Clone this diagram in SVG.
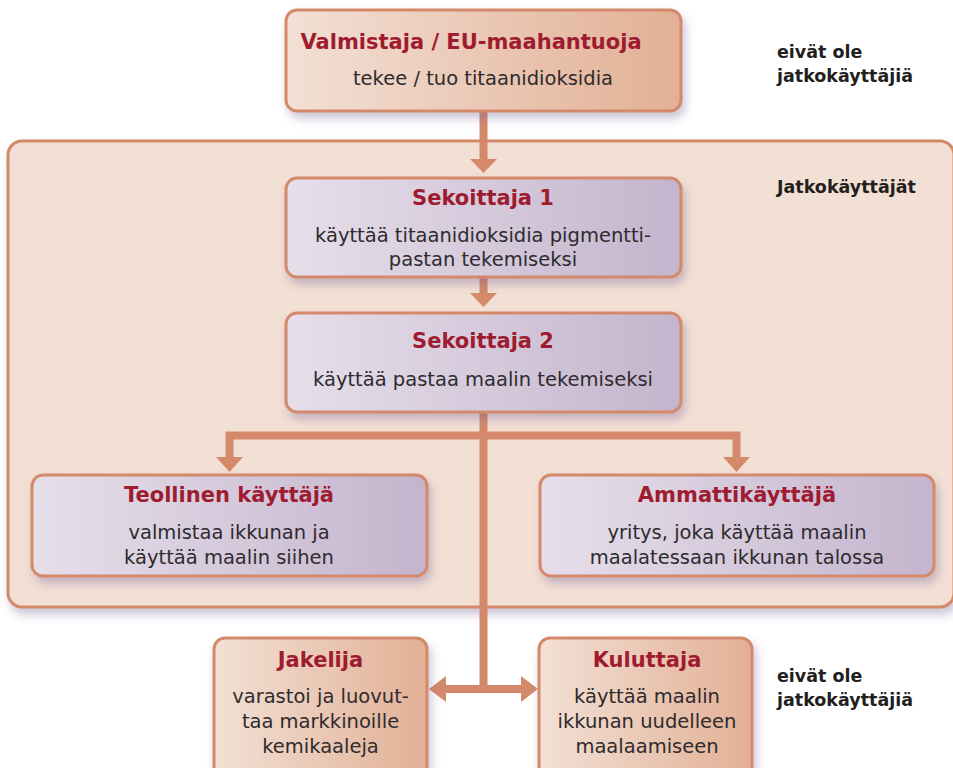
<svg xmlns="http://www.w3.org/2000/svg" width="953" height="768" viewBox="0 0 953 768">
<defs>
<linearGradient id="gOr" x1="0" y1="0" x2="1" y2="0"><stop offset="0" stop-color="#f3e0d5"/><stop offset="1" stop-color="#e2b095"/></linearGradient>
<linearGradient id="gLa" x1="0" y1="0" x2="1" y2="0"><stop offset="0" stop-color="#e6dfea"/><stop offset="1" stop-color="#c4b4cd"/></linearGradient>
<filter id="sh" x="-10%" y="-10%" width="125%" height="140%"><feDropShadow dx="3" dy="6" stdDeviation="5" flood-color="#6a5a90" flood-opacity="0.35"/></filter>
<style>
.box{stroke:#d4896a;stroke-width:3}
.or{fill:url(#gOr)}
.la{fill:url(#gLa)}
.t{font-family:"DejaVu Sans",sans-serif;font-weight:bold;font-size:21px;fill:#9e1b30;text-anchor:middle}
.b{font-family:"DejaVu Sans",sans-serif;font-size:19.5px;fill:#2e2b2e;text-anchor:middle}
.n{font-family:"DejaVu Sans",sans-serif;font-weight:bold;font-size:17.5px;fill:#231f20}
.ln{stroke:#d4896a;stroke-width:8;fill:none}
.hd{fill:#d4896a}
</style>
</defs>
<rect width="953" height="768" fill="#ffffff"/>
<g id="container">
<rect x="8" y="141" width="946" height="466" rx="14" fill="#f3e0d5" stroke="#d4896a" stroke-width="3" filter="url(#sh)"/>
</g>
<g id="connectors">
<line class="ln" x1="483.5" y1="112" x2="483.5" y2="160"/>
<polygon class="hd" points="470,159 497,159 483.5,173"/>
<line class="ln" x1="483.5" y1="278" x2="483.5" y2="294"/>
<polygon class="hd" points="470,293 497,293 483.5,307"/>
<line class="ln" x1="483.5" y1="413" x2="483.5" y2="693"/>
<polyline class="ln" points="229.5,458 229.5,435.5 736.5,435.5 736.5,458"/>
<polygon class="hd" points="216,457 243,457 229.5,472"/>
<polygon class="hd" points="723,457 750,457 736.5,472"/>
<line class="ln" x1="444" y1="689" x2="523" y2="689"/>
<polygon class="hd" points="429,689 446,676 446,702"/>
<polygon class="hd" points="538,689 521,676 521,702"/>
</g>
<g id="valmistaja">
<rect class="box or" x="286" y="10" width="395" height="101" rx="11" filter="url(#sh)"/>
<text class="t" x="471" y="49">Valmistaja / EU-maahantuoja</text>
<text class="b" x="483" y="85">tekee / tuo titaanidioksidia</text>
</g>
<g id="sekoittaja1">
<rect class="box la" x="286" y="178" width="395" height="99" rx="11" filter="url(#sh)"/>
<text class="t" x="483" y="205">Sekoittaja 1</text>
<text class="b" x="483" y="242">käyttää titaanidioksidia pigmentti-</text>
<text class="b" x="483" y="266">pastan tekemiseksi</text>
</g>
<g id="sekoittaja2">
<rect class="box la" x="286" y="313" width="395" height="99" rx="11" filter="url(#sh)"/>
<text class="t" x="483" y="348">Sekoittaja 2</text>
<text class="b" x="483" y="386">käyttää pastaa maalin tekemiseksi</text>
</g>
<g id="teollinen">
<rect class="box la" x="32" y="475" width="395" height="101" rx="11" filter="url(#sh)"/>
<text class="t" x="229" y="502">Teollinen käyttäjä</text>
<text class="b" x="229" y="539">valmistaa ikkunan ja</text>
<text class="b" x="229" y="564">käyttää maalin siihen</text>
</g>
<g id="ammatti">
<rect class="box la" x="540" y="475" width="394" height="101" rx="11" filter="url(#sh)"/>
<text class="t" x="737" y="502">Ammattikäyttäjä</text>
<text class="b" x="737" y="539">yritys, joka käyttää maalin</text>
<text class="b" x="737" y="564">maalatessaan ikkunan talossa</text>
</g>
<g id="jakelija">
<rect class="box or" x="214" y="638" width="213" height="140" rx="11" filter="url(#sh)"/>
<text class="t" x="320.5" y="667">Jakelija</text>
<text class="b" x="320.5" y="703">varastoi ja luovut-</text>
<text class="b" x="320.5" y="728">taa markkinoille</text>
<text class="b" x="320.5" y="753">kemikaaleja</text>
</g>
<g id="kuluttaja">
<rect class="box or" x="539" y="638" width="213" height="140" rx="11" filter="url(#sh)"/>
<text class="t" x="647" y="667">Kuluttaja</text>
<text class="b" x="647" y="703">käyttää maalin</text>
<text class="b" x="647" y="728">ikkunan uudelleen</text>
<text class="b" x="647" y="753">maalaamiseen</text>
</g>
<g id="notes">
<text class="n" x="777" y="58">eivät ole</text>
<text class="n" x="777" y="82">jatkokäyttäjiä</text>
<text class="n" x="777" y="193">Jatkokäyttäjät</text>
<text class="n" x="777" y="682">eivät ole</text>
<text class="n" x="777" y="706">jatkokäyttäjiä</text>
</g>
</svg>
